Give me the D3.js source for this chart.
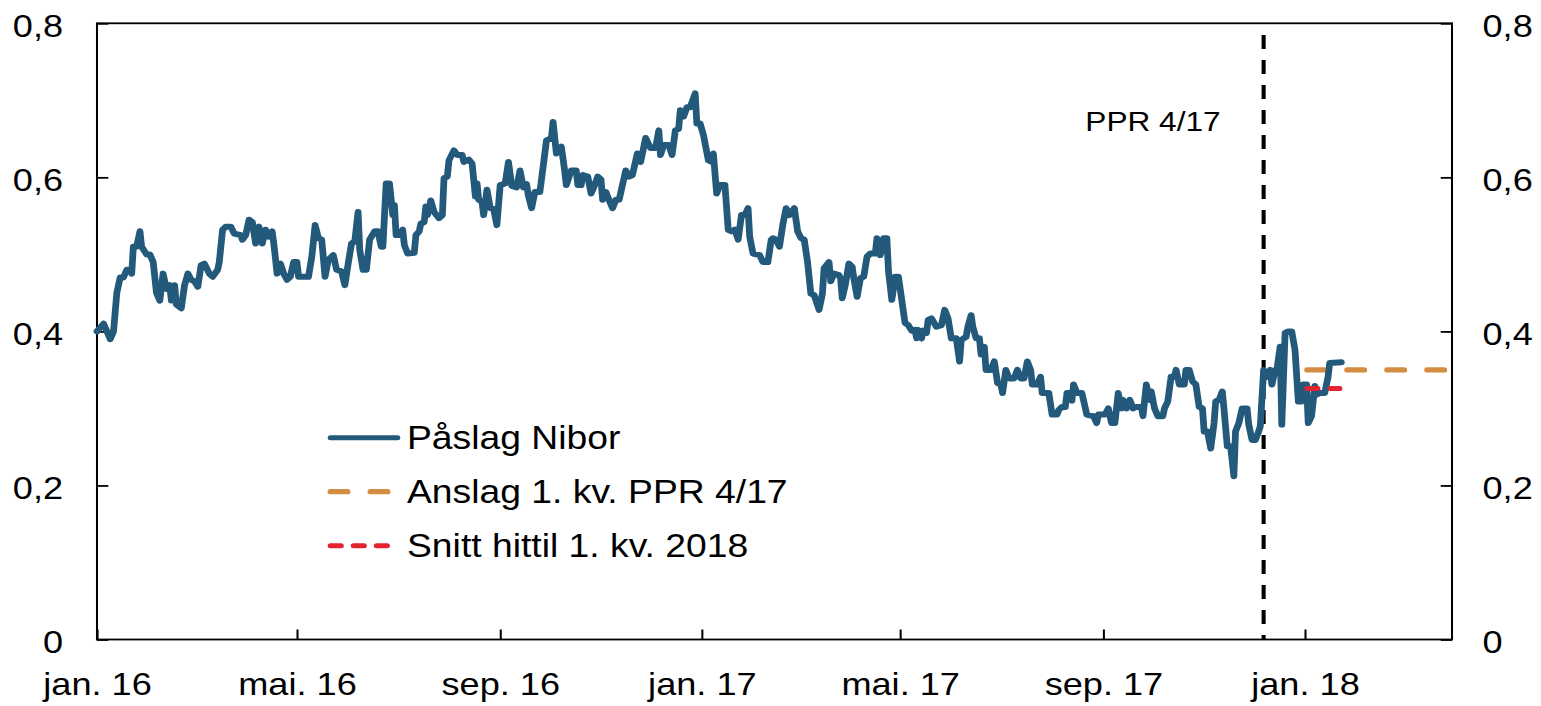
<!DOCTYPE html>
<html>
<head>
<meta charset="utf-8">
<script src="https://d3js.org/d3.v7.min.js"></script>
<style>
body { margin: 0; background: #fff; }
svg { display: block; }
text { font-family: "Liberation Sans", Arial, sans-serif; fill: #000; }
</style>
</head>
<body>
<div id="chart"></div>
<script>

// Påslag Nibor, daglig (prosentpoeng)
var nibor = [
  ["2016-01-01",.40],["2016-01-05",.41],["2016-01-09",.39],["2016-01-11",.40],["2016-01-13",.45],["2016-01-15",.47],
  ["2016-01-17",.47],["2016-01-19",.48],["2016-01-21",.48],["2016-01-22",.475],["2016-01-23",.51],["2016-01-25",.51],
  ["2016-01-27",.53],["2016-01-28",.51],["2016-01-31",.50],["2016-02-02",.50],["2016-02-04",.49],["2016-02-06",.45],
  ["2016-02-08",.44],["2016-02-10",.475],["2016-02-12",.455],["2016-02-14",.46],["2016-02-15",.44],["2016-02-17",.46],
  ["2016-02-18",.435],["2016-02-21",.43],["2016-02-23",.46],["2016-02-25",.475],["2016-02-27",.467],["2016-02-29",.465],
  ["2016-03-02",.458],["2016-03-04",.486],["2016-03-06",.488],["2016-03-09",.475],["2016-03-11",.471],["2016-03-14",.48],
  ["2016-03-15",.49],["2016-03-17",.532],["2016-03-19",.536],["2016-03-22",.536],["2016-03-24",.527],["2016-03-28",.525],
  ["2016-03-29",.519],["2016-03-31",.525],["2016-04-02",.545],["2016-04-04",.542],["2016-04-06",.514],["2016-04-08",.536],
  ["2016-04-10",.514],["2016-04-12",.532],["2016-04-14",.523],["2016-04-16",.53],["2016-04-17",.514],["2016-04-19",.475],
  ["2016-04-21",.488],["2016-04-23",.475],["2016-04-25",.467],["2016-04-27",.471],["2016-04-29",.49],["2016-05-01",.49],
  ["2016-05-02",.471],["2016-05-08",.471],["2016-05-10",.497],["2016-05-12",.538],["2016-05-14",.521],["2016-05-16",.519],
  ["2016-05-18",.471],["2016-05-20",.493],["2016-05-23",.499],["2016-05-25",.48],["2016-05-28",.478],["2016-05-30",.46],
  ["2016-06-01",.488],["2016-06-03",.514],["2016-06-05",.517],["2016-06-07",.555],["2016-06-08",.506],["2016-06-10",.48],
  ["2016-06-12",.48],["2016-06-14",.519],["2016-06-17",.53],["2016-06-19",.53],["2016-06-21",.51],["2016-06-22",.51],
  ["2016-06-24",.592],["2016-06-26",.592],["2016-06-28",.551],["2016-06-29",.564],["2016-06-30",.525],["2016-07-02",.525],
  ["2016-07-04",.532],["2016-07-05",.512],["2016-07-07",.501],["2016-07-11",.502],["2016-07-12",.525],["2016-07-14",.53],
  ["2016-07-15",.54],["2016-07-17",.542],["2016-07-18",.562],["2016-07-19",.551],["2016-07-21",.57],["2016-07-23",.555],
  ["2016-07-26",.547],["2016-07-28",.551],["2016-07-29",.599],["2016-07-31",.601],["2016-08-01",.622],["2016-08-04",.635],
  ["2016-08-06",.629],["2016-08-09",.629],["2016-08-10",.62],["2016-08-13",.623],["2016-08-15",.618],["2016-08-17",.575],
  ["2016-08-18",.592],["2016-08-19",.571],["2016-08-21",.568],["2016-08-22",.551],["2016-08-24",.584],["2016-08-26",.56],
  ["2016-08-28",.559],["2016-08-30",.538],["2016-09-01",.59],["2016-09-04",.592],["2016-09-06",.62],["2016-09-08",.589],
  ["2016-09-11",.587],["2016-09-13",.609],["2016-09-15",.587],["2016-09-17",.591],["2016-09-18",.577],["2016-09-20",.56],
  ["2016-09-22",.581],["2016-09-25",.581],["2016-09-27",.614],["2016-09-29",.648],["2016-10-02",.651],["2016-10-03",.672],
  ["2016-10-05",.631],["2016-10-08",.64],["2016-10-10",.609],["2016-10-11",.59],["2016-10-14",.609],["2016-10-17",.609],
  ["2016-10-18",.59],["2016-10-20",.59],["2016-10-21",.603],["2016-10-24",.601],["2016-10-26",.579],["2016-10-28",.589],
  ["2016-10-30",.601],["2016-11-01",.597],["2016-11-02",.571],["2016-11-04",.581],["2016-11-05",.575],["2016-11-08",.56],
  ["2016-11-10",.571],["2016-11-12",.571],["2016-11-16",.609],["2016-11-18",.601],["2016-11-20",.603],["2016-11-23",.631],
  ["2016-11-25",.62],["2016-11-28",.651],["2016-12-01",.638],["2016-12-04",.638],["2016-12-06",.661],["2016-12-07",.629],
  ["2016-12-09",.642],["2016-12-12",.642],["2016-12-14",.629],["2016-12-16",.661],["2016-12-18",.663],["2016-12-19",.687],
  ["2016-12-21",.679],["2016-12-23",.691],["2016-12-25",.691],["2016-12-28",.709],["2016-12-29",.67],["2016-12-31",.67],
  ["2017-01-02",.655],["2017-01-05",.622],["2017-01-07",.62],["2017-01-08",.631],["2017-01-10",.579],["2017-01-12",.59],
  ["2017-01-15",.59],["2017-01-17",.532],["2017-01-19",.53],["2017-01-21",.532],["2017-01-23",.519],["2017-01-25",.551],
  ["2017-01-27",.551],["2017-01-29",.56],["2017-01-30",.523],["2017-02-01",.501],["2017-02-05",.499],["2017-02-07",.49],
  ["2017-02-10",.49],["2017-02-12",.519],["2017-02-13",.521],["2017-02-15",.519],["2017-02-17",.51],["2017-02-19",.538],
  ["2017-02-21",.56],["2017-02-23",.551],["2017-02-26",.56],["2017-02-28",.53],["2017-03-02",.521],["2017-03-04",.519],
  ["2017-03-06",.49],["2017-03-08",.449],["2017-03-10",.447],["2017-03-13",.428],["2017-03-15",.449],["2017-03-16",.482],
  ["2017-03-19",.49],["2017-03-20",.465],["2017-03-22",.475],["2017-03-25",.473],["2017-03-26",.469],["2017-03-27",.443],
  ["2017-03-29",.462],["2017-03-31",.488],["2017-04-02",.484],["2017-04-03",.469],["2017-04-05",.445],["2017-04-07",.469],
  ["2017-04-09",.471],["2017-04-11",.497],["2017-04-13",.501],["2017-04-16",.501],["2017-04-17",.521],["2017-04-19",.499],
  ["2017-04-21",.521],["2017-04-23",.521],["2017-04-24",.478],["2017-04-26",.441],["2017-04-28",.471],["2017-04-30",.471],
  ["2017-05-02",.441],["2017-05-04",.411],["2017-05-06",.408],["2017-05-08",.401],["2017-05-10",.402],["2017-05-11",.391],
  ["2017-05-12",.402],["2017-05-14",.391],["2017-05-15",.401],["2017-05-17",.398],["2017-05-18",.415],["2017-05-20",.417],
  ["2017-05-23",.406],["2017-05-26",.408],["2017-05-28",.428],["2017-05-30",.417],["2017-06-01",.391],["2017-06-04",.391],
  ["2017-06-06",.361],["2017-06-07",.389],["2017-06-10",.393],["2017-06-11",.406],["2017-06-13",.421],["2017-06-14",.406],
  ["2017-06-16",.391],["2017-06-18",.391],["2017-06-19",.37],["2017-06-21",.38],["2017-06-22",.35],["2017-06-25",.35],
  ["2017-06-27",.361],["2017-06-29",.333],["2017-07-01",.331],["2017-07-02",.32],["2017-07-04",.35],["2017-07-06",.339],
  ["2017-07-09",.339],["2017-07-11",.35],["2017-07-13",.339],["2017-07-15",.339],["2017-07-17",.361],["2017-07-19",.35],
  ["2017-07-20",.331],["2017-07-23",.331],["2017-07-25",.341],["2017-07-26",.32],["2017-07-30",.32],["2017-08-01",.292],
  ["2017-08-04",.292],["2017-08-05",.298],["2017-08-07",.302],["2017-08-09",.302],["2017-08-10",.32],["2017-08-12",.32],
  ["2017-08-13",.31],["2017-08-14",.331],["2017-08-16",.32],["2017-08-19",.32],["2017-08-22",.292],["2017-08-26",.29],
  ["2017-08-28",.281],["2017-08-29",.292],["2017-09-02",.292],["2017-09-04",.30],["2017-09-06",.281],["2017-09-08",.281],
  ["2017-09-10",.32],["2017-09-12",.30],["2017-09-13",.311],["2017-09-15",.30],["2017-09-17",.311],["2017-09-19",.30],
  ["2017-09-21",.302],["2017-09-24",.302],["2017-09-25",.29],["2017-09-27",.331],["2017-09-29",.311],["2017-09-30",.322],
  ["2017-10-02",.30],["2017-10-04",.29],["2017-10-07",.29],["2017-10-08",.30],["2017-10-10",.309],["2017-10-12",.341],
  ["2017-10-14",.341],["2017-10-15",.35],["2017-10-17",.331],["2017-10-20",.331],["2017-10-21",.35],["2017-10-23",.35],
  ["2017-10-25",.335],["2017-10-27",.331],["2017-10-29",.302],["2017-10-31",.30],["2017-11-01",.27],["2017-11-03",.27],
  ["2017-11-05",.248],["2017-11-07",.281],["2017-11-08",.309],["2017-11-10",.311],["2017-11-12",.322],["2017-11-13",.30],
  ["2017-11-15",.251],["2017-11-17",.251],["2017-11-19",.212],["2017-11-20",.27],["2017-11-22",.281],["2017-11-24",.30],
  ["2017-11-27",.30],["2017-11-28",.279],["2017-11-30",.259],["2017-12-02",.259],["2017-12-04",.27],["2017-12-05",.277],
  ["2017-12-07",.35],["2017-12-09",.341],["2017-12-11",.35],["2017-12-12",.331],["2017-12-14",.35],["2017-12-15",.35],
  ["2017-12-17",.38],["2017-12-18",.279],["2017-12-20",.398],["2017-12-22",.40],["2017-12-24",.40],["2017-12-26",.376],
  ["2017-12-28",.309],["2017-12-30",.309],["2017-12-31",.331],["2018-01-02",.331],["2018-01-03",.281],["2018-01-05",.29],
  ["2018-01-07",.329],["2018-01-08",.318],["2018-01-10",.32],["2018-01-13",.32],["2018-01-15",.341],["2018-01-16",.359],
  ["2018-01-23",.36]
];

// Anslag 1. kv. PPR 4/17
var anslag = [["2018-01-01",.35],["2018-03-31",.35]];
// Snitt hittil 1. kv. 2018
var snitt = [["2018-01-01",.326],["2018-01-22",.326]];

var pprDate = "2017-12-07";
var pprLabel = "PPR 4/17";

var xTickDates = ["2016-01-01","2016-05-01","2016-09-01","2017-01-01","2017-05-01","2017-09-01","2018-01-01"];
var xTickLabels = ["jan. 16","mai. 16","sep. 16","jan. 17","mai. 17","sep. 17","jan. 18"];
var yTicks = [0, 0.2, 0.4, 0.6, 0.8];

var legendNames = ["Påslag Nibor", "Anslag 1. kv. PPR 4/17", "Snitt hittil 1. kv. 2018"];

// the original picture is stretched horizontally, so draw in a narrower box and stretch it
var k = 1.13,
    W = 1541 / k,
    H = 706;

var parse = d3.timeParse("%Y-%m-%d");
var no = d3.formatLocale({decimal: ",", thousands: " ", grouping: [3], currency: ["", " kr"]});
var fmt = no.format(".1~f");

var svg = d3.select("#chart").append("svg")
    .attr("width", 1541)
    .attr("height", H)
    .attr("viewBox", "0 0 " + W + " " + H)
    .attr("preserveAspectRatio", "none");

var x = d3.scaleTime()
    .domain([parse("2016-01-01"), parse("2018-03-31")])
    .range([97 / k, 1452 / k]);
var y = d3.scaleLinear().domain([0, 0.8]).range([639.5, 23.3]);

var x0 = x.range()[0], x1 = x.range()[1], y0 = y.range()[0], y1 = y.range()[1];

var blue = "#235a7b", orange = "#d38d42", red = "#e3232f";

// axes
var gx = svg.append("g")
    .attr("transform", "translate(0," + y0 + ")")
    .call(d3.axisBottom(x).tickValues(xTickDates.map(parse))
        .tickFormat(function(d, i) { return xTickLabels[i]; })
        .tickSize(-10).tickPadding(33));

var gl = svg.append("g")
    .attr("transform", "translate(" + x0 + ",0)")
    .call(d3.axisLeft(y).tickValues(yTicks).tickFormat(fmt).tickSize(-10).tickPadding(30));

var gr = svg.append("g")
    .attr("transform", "translate(" + x1 + ",0)")
    .call(d3.axisRight(y).tickValues(yTicks).tickFormat(fmt).tickSize(-10).tickPadding(27));

[gx, gl, gr].forEach(function(g) {
  g.select(".domain").remove();
  g.selectAll(".tick line").attr("stroke", "#000").attr("stroke-width", 1.8);
  g.selectAll("text").attr("font-family", null).style("font-size", "32px");
});
gl.selectAll("text").attr("dy", "0.4em");
gr.selectAll("text").attr("dy", "0.4em");

// frame
svg.append("rect")
    .attr("x", x0).attr("y", y1)
    .attr("width", x1 - x0).attr("height", y0 - y1)
    .attr("fill", "none").attr("stroke", "#000").attr("stroke-width", 1.8);

// PPR line
svg.append("line")
    .attr("x1", x(parse(pprDate))).attr("x2", x(parse(pprDate)))
    .attr("y1", 35).attr("y2", y0)
    .attr("stroke", "#000").attr("stroke-width", 3.6)
    .attr("stroke-dasharray", "14,11");

svg.append("text")
    .attr("x", x(parse(pprDate)) - 38)
    .attr("y", 131.5)
    .attr("text-anchor", "end")
    .style("font-size", "28px")
    .text(pprLabel);

var line = d3.line()
    .x(function(d) { return x(parse(d[0])); })
    .y(function(d) { return y(d[1]); });

svg.append("path")
    .datum(anslag)
    .attr("d", line)
    .attr("fill", "none").attr("stroke", orange).attr("stroke-width", 5.3)
    .attr("stroke-linecap", "round")
    .attr("stroke-dasharray", "15,20.4")
    .attr("stroke-dashoffset", -2);

svg.append("path")
    .datum(nibor)
    .attr("d", line)
    .attr("fill", "none").attr("stroke", blue).attr("stroke-width", 6)
    .attr("stroke-linejoin", "round").attr("stroke-linecap", "round");

svg.append("path")
    .datum(snitt)
    .attr("d", line)
    .attr("fill", "none").attr("stroke", red).attr("stroke-width", 5)
    .attr("stroke-linecap", "round")
    .attr("stroke-dasharray", "9.3,11.1")
    .attr("stroke-dashoffset", -2);

// legend
var legendStyles = [
  {color: blue, width: 5, dash: null},
  {color: orange, width: 5.3, dash: "15,20.4"},
  {color: red, width: 5, dash: "9.3,11.1"}
];
var leg = svg.append("g");
legendNames.forEach(function(name, i) {
  var ly = 437.7 + i * 54;
  leg.append("line")
      .attr("x1", 330.5 / k).attr("x2", 397.5 / k)
      .attr("y1", ly).attr("y2", ly)
      .attr("stroke", legendStyles[i].color)
      .attr("stroke-width", legendStyles[i].width)
      .attr("stroke-linecap", "round")
      .attr("stroke-dasharray", legendStyles[i].dash);
  leg.append("text")
      .attr("x", 407 / k)
      .attr("y", ly)
      .attr("dy", "0.35em")
      .style("font-size", "33px")
      .text(name);
});

</script>
</body>
</html>
